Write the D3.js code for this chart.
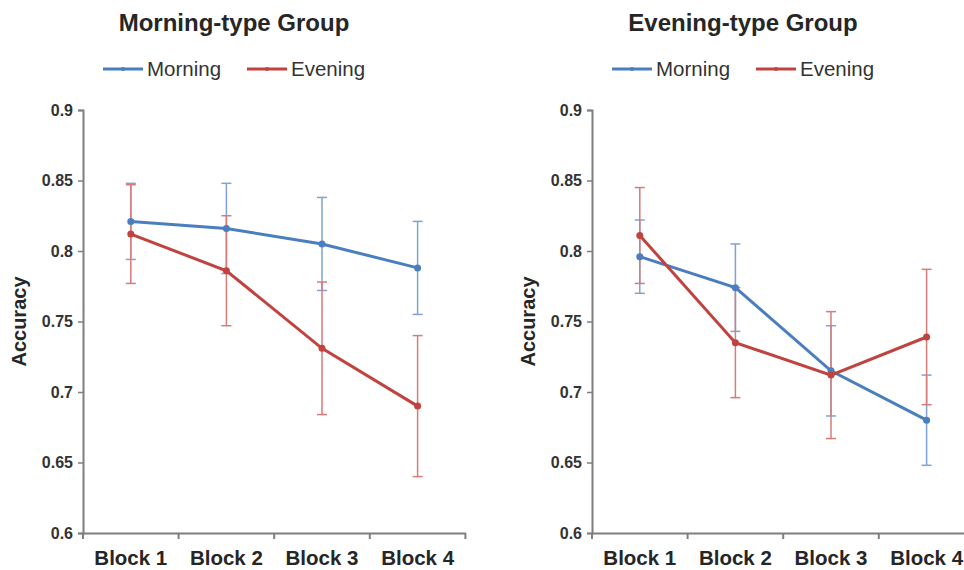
<!DOCTYPE html>
<html>
<head>
<meta charset="utf-8">
<script src="https://cdn.jsdelivr.net/npm/d3@7"></script>
<style>
	body { margin: 0; background: #fff; }
	svg { font-family: "Liberation Sans", Arial, sans-serif; }
</style>
</head>
<body>
<div id="chart"></div>
<script>
/* Accuracy by block, two chronotype groups */

var blocks = ["Block 1", "Block 2", "Block 3", "Block 4"];
var seriesNames = ["Morning", "Evening"];
var yTicks = [0.6, 0.65, 0.7, 0.75, 0.8, 0.85, 0.9];

// Morning-type group
var mtMorning = [0.821, 0.816, 0.805, 0.788];
var mtMorningErr = [0.027, 0.032, 0.033, 0.033];
var mtEvening = [0.812, 0.786, 0.731, 0.690];
var mtEveningErr = [0.035, 0.039, 0.047, 0.050];

// Evening-type group
var etMorning = [0.796, 0.774, 0.715, 0.680];
var etMorningErr = [0.026, 0.031, 0.032, 0.032];
var etEvening = [0.811, 0.735, 0.712, 0.739];
var etEveningErr = [0.034, 0.039, 0.045, 0.048];

var panels = [
	{ title: "Morning-type Group", left: 83, series: [mtMorning, mtEvening], errs: [mtMorningErr, mtEveningErr] },
	{ title: "Evening-type Group", left: 592, series: [etMorning, etEvening], errs: [etMorningErr, etEveningErr] }
];

var colors = ["#4a7ebf", "#c0433f"];
var errColors = ["#7fa3d6", "#d97b78"];

var width = 964, height = 570;
var plotTop = 110, plotBottom = 533, bandW = 95.6;

var svg = d3.select("#chart").append("svg")
	.attr("width", width)
	.attr("height", height);

var y = d3.scaleLinear().domain([0.6, 0.9]).range([plotBottom, plotTop]);

panels.forEach(function(p) {
	var x = d3.scaleBand().domain(blocks).range([p.left, p.left + bandW * blocks.length]).padding(0);
	var g = svg.append("g");
	var cx = function(i) { return x(blocks[i]) + x.bandwidth() / 2; };

	/* title */
	g.append("text")
		.attr("x", p.left + 151)
		.attr("y", 31)
		.attr("text-anchor", "middle")
		.style("font-size", "24px")
		.style("font-weight", "bold")
		.style("fill", "#262626")
		.text(p.title);

	/* legend */
	var leg = g.append("g").attr("transform", "translate(" + (p.left + 20) + ",69)");
	seriesNames.forEach(function(name, k) {
		var lx = k * 144;
		leg.append("line")
			.attr("x1", lx).attr("x2", lx + 40)
			.attr("y1", 0).attr("y2", 0)
			.style("stroke", colors[k]).style("stroke-width", 3);
		leg.append("circle")
			.attr("cx", lx + 20).attr("cy", 0).attr("r", 2)
			.style("fill", colors[k]);
		leg.append("text")
			.attr("x", lx + 44).attr("y", 7)
			.style("font-size", "20.5px")
			.style("fill", "#333")
			.text(name);
	});

	/* axes */
	var yAxis = g.append("g")
		.attr("transform", "translate(" + p.left + ",0)")
		.call(d3.axisLeft(y).tickValues(yTicks).tickSize(5).tickFormat(function(d) { return String(d); }));
	yAxis.selectAll("text")
		.attr("x", -10)
		.style("font-size", "16px").style("font-weight", "bold").style("fill", "#333");

	var xAxis = g.append("g")
		.attr("transform", "translate(0," + plotBottom + ")")
		.call(d3.axisBottom(x).tickSize(0).tickFormat(""));
	xAxis.selectAll(".tick").remove();
	xAxis.selectAll(".bt").data(d3.range(blocks.length + 1)).enter()
		.append("line")
		.attr("x1", function(i) { return p.left + i * x.bandwidth(); })
		.attr("x2", function(i) { return p.left + i * x.bandwidth(); })
		.attr("y1", 0).attr("y2", 6);
	xAxis.selectAll(".bl").data(blocks).enter()
		.append("text")
		.attr("x", function(d) { return x(d) + x.bandwidth() / 2; })
		.attr("y", 32)
		.attr("text-anchor", "middle")
		.style("font-size", "20.5px").style("font-weight", "bold").style("fill", "#262626")
		.text(function(d) { return d; });

	xAxis.select(".domain").style("stroke", "#7f7f7f").style("stroke-width", 2);
	yAxis.select(".domain").style("stroke", "#7f7f7f").style("stroke-width", 2);
	xAxis.selectAll("line").style("stroke", "#7f7f7f").style("stroke-width", 2);
	yAxis.selectAll("line").style("stroke", "#7f7f7f").style("stroke-width", 1.5);

	g.append("text")
		.attr("transform", "translate(" + (p.left - 57) + "," + ((plotTop + plotBottom) / 2) + ") rotate(-90)")
		.attr("text-anchor", "middle")
		.style("font-size", "20px").style("font-weight", "bold").style("fill", "#262626")
		.text("Accuracy");

	/* error bars */
	p.series.forEach(function(vals, k) {
		var eb = g.append("g").style("stroke", errColors[k]).style("stroke-width", 1.5);
		vals.forEach(function(v, i) {
			var e = p.errs[k][i];
			eb.append("line").attr("x1", cx(i)).attr("x2", cx(i)).attr("y1", y(v + e)).attr("y2", y(v - e));
			eb.append("line").attr("x1", cx(i) - 5).attr("x2", cx(i) + 5).attr("y1", y(v + e)).attr("y2", y(v + e));
			eb.append("line").attr("x1", cx(i) - 5).attr("x2", cx(i) + 5).attr("y1", y(v - e)).attr("y2", y(v - e));
		});
	});

	/* lines */
	var line = d3.line().x(function(d, i) { return cx(i); }).y(function(d) { return y(d); });
	p.series.forEach(function(vals, k) {
		g.append("path")
			.datum(vals)
			.attr("d", line)
			.style("fill", "none")
			.style("stroke", colors[k])
			.style("stroke-width", 3);
		g.selectAll(".pt" + k).data(vals).enter()
			.append("circle")
			.attr("cx", function(d, i) { return cx(i); })
			.attr("cy", function(d) { return y(d); })
			.attr("r", 3.5)
			.style("fill", colors[k]);
	});
});
</script>
</body>
</html>
